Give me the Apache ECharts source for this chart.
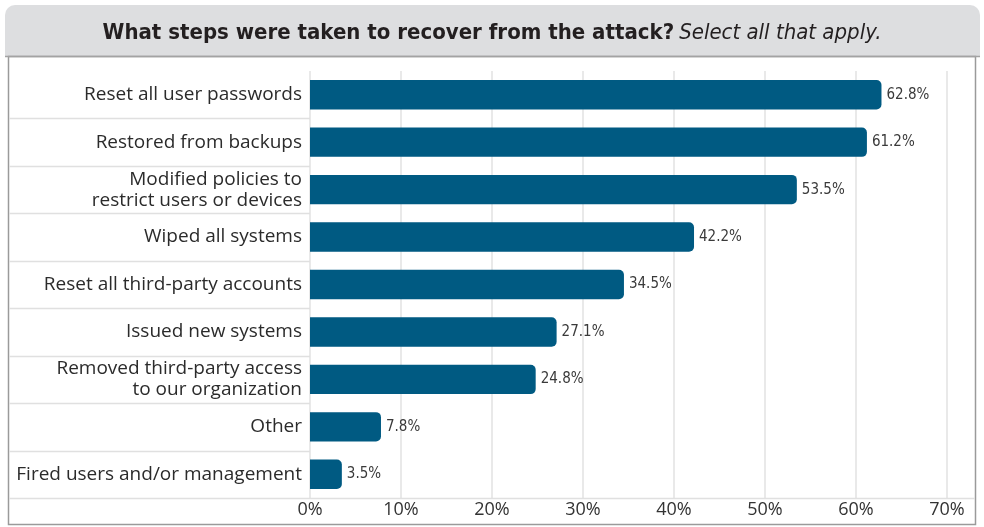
<!DOCTYPE html>
<html>
<head>
<meta charset="utf-8">
<script src="https://cdn.jsdelivr.net/npm/echarts@6/dist/echarts.min.js"></script>
<style>html,body{margin:0;padding:0;background:#fff;}#c{width:984px;height:527px;}</style>
</head>
<body>
<div id="c"></div>
<script>
const categories = [
  "Reset all user passwords",
  "Restored from backups",
  "Modified policies to\nrestrict users or devices",
  "Wiped all systems",
  "Reset all third-party accounts",
  "Issued new systems",
  "Removed third-party access\nto our organization",
  "Other",
  "Fired users and/or management"
];
const values = [62.8, 61.2, 53.5, 42.2, 34.5, 27.1, 24.8, 7.8, 3.5];
const xTicks = { min: 0, max: 70, interval: 10 };
const titleBold = "What steps were taken to recover from the attack?";
const titleItalic = "Select all that apply.";

const chart = echarts.init(document.getElementById('c'), null, {renderer: 'canvas'});
const labelFont = "'Open Sans', 'Noto Sans', sans-serif";
const narrowFont = "'DejaVu Sans Condensed', 'Liberation Sans Narrow', sans-serif";

const option = {
  backgroundColor: '#ffffff',
  animation: false,
  title: {
    text: '{b|' + titleBold + '} {i|' + titleItalic + '}',
    left: 'center',
    top: 17,
    textStyle: {
      rich: {
        b: { fontFamily: narrowFont, fontWeight: 'bold', fontSize: 22, color: '#231f20' },
        i: { fontFamily: narrowFont, fontStyle: 'italic', fontWeight: 'normal', fontSize: 22, color: '#231f20' }
      }
    }
  },
  grid: { left: 310, right: 37, top: 71, bottom: 29, containLabel: false },
  xAxis: {
    type: 'value',
    min: xTicks.min, max: xTicks.max, interval: xTicks.interval,
    axisLine: { show: false },
    axisTick: { show: false },
    splitLine: { show: true, lineStyle: { color: '#e2e2e2', width: 1.5 } },
    axisLabel: { formatter: '{value}%', fontFamily: labelFont, fontSize: 18, color: '#333', margin: 3 }
  },
  yAxis: {
    type: 'category',
    data: categories,
    inverse: true,
    axisLine: { show: false },
    axisTick: { show: false },
    splitLine: { show: false },
    axisLabel: { fontFamily: labelFont, fontSize: 19, color: '#2b2b2b', margin: 8, align: 'right', lineHeight: 21, padding: [4, 0, 0, 0] }
  },
  series: [{
    type: 'bar',
    data: values,
    barCategoryGap: '38%',
    itemStyle: { color: '#005a82', borderRadius: [0, 5, 5, 0] },
    label: {
      show: true, position: 'right', distance: 5,
      formatter: '{c}%',
      fontFamily: narrowFont, fontSize: 15, color: '#3a3a3a'
    }
  }]
};
chart.setOption(option);

// Frame and row separators derived from the chart's own scales
const c0 = chart.convertToPixel({ yAxisIndex: 0 }, 0);
const c1 = chart.convertToPixel({ yAxisIndex: 0 }, 1);
const band = c1 - c0;
const x0 = chart.convertToPixel({ xAxisIndex: 0 }, 0);
const graphics = [
  { type: 'rect', z: -10, shape: { x: 5, y: 5, width: 975, height: 52, r: [10, 10, 0, 0] }, style: { fill: '#dddee0' } },
  { type: 'rect', z: -5, shape: { x: 8.5, y: 56.5, width: 967, height: 468 }, style: { fill: 'none', stroke: '#9a9a9a', lineWidth: 1.5 } },
  { type: 'line', z: 5, shape: { x1: 5, y1: 56.5, x2: 980, y2: 56.5 }, style: { stroke: '#a3a3a3', lineWidth: 1.5 } }
];
for (let i = 1; i <= categories.length; i++) {
  const y = Math.round(c0 + band * (i - 0.5)) + 0.5;
  const full = i === categories.length;
  graphics.push({ type: 'line', z: 1, shape: { x1: 9, y1: y, x2: full ? 975 : x0, y2: y }, style: { stroke: '#e0e0e0', lineWidth: 1.5 } });
}
chart.setOption({ graphic: graphics });
</script>
</body>
</html>
